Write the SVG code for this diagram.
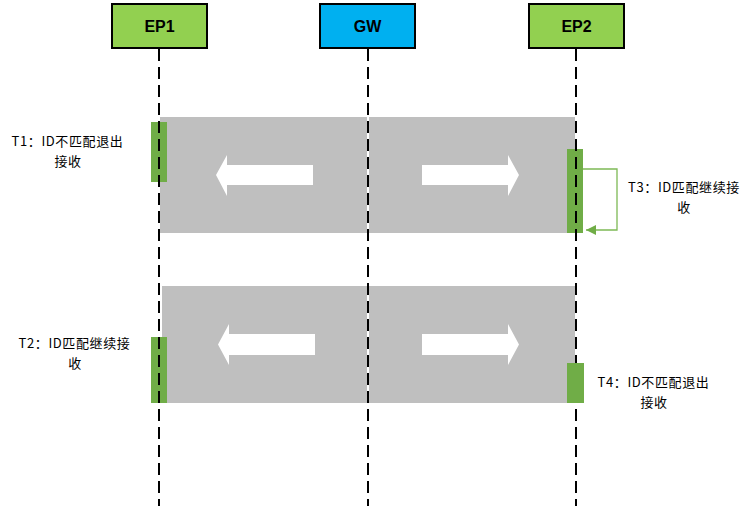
<svg xmlns="http://www.w3.org/2000/svg" width="750" height="513" viewBox="0 0 750 513">
<style>
.band{fill:#BFBFBF}
.wa{fill:#FFFFFF}
.bar{fill:#70AD47}
.life{stroke:#000;stroke-width:2;stroke-dasharray:12 6;fill:none}
.hdr{stroke:#000;stroke-width:2}
.ht{font-family:"Liberation Sans",Arial,sans-serif;font-weight:bold;font-size:16px;fill:#000;text-anchor:middle}
.lbl{font-family:"Noto Sans CJK SC","Noto Sans",sans-serif;font-size:13px;letter-spacing:0.6px;fill:#000;text-anchor:middle}
.fb{stroke:#7DB955;stroke-width:1.3;fill:none}
</style>
<defs>
<marker id="ah" viewBox="0 0 10 10" refX="10" refY="5" markerWidth="12" markerHeight="10" markerUnits="userSpaceOnUse" orient="auto">
<path d="M0,0 L10,5 L0,10 Z" fill="#70AD47"/>
</marker>
</defs>
<g id="band1">
<rect class="band" x="160" y="117" width="207" height="116"/>
<rect class="band" x="369" y="117" width="206" height="116"/>
<polygon class="wa" points="216,175 227,155 227,165 313,165 313,185 227,185 227,196"/>
<polygon class="wa" points="519,175 508,155 508,165 422,165 422,185 508,185 508,196"/>
</g>
<g id="band2">
<rect class="band" x="162" y="286" width="205" height="117"/>
<rect class="band" x="369" y="286" width="206" height="117"/>
<polygon class="wa" points="218,344.5 229,324 229,334 315,334 315,355 229,355 229,365"/>
<polygon class="wa" points="519,344.5 508,324 508,334 422,334 422,355 508,355 508,365"/>
</g>
<g id="bars">
<rect class="bar" x="151" y="122" width="16" height="60"/>
<rect class="bar" x="567" y="149" width="16" height="84"/>
<rect class="bar" x="151" y="337" width="16" height="66"/>
</g>
<g id="EP1">
<rect class="hdr" x="112" y="4" width="95" height="44" fill="#92D050"/>
<text class="ht" x="159.5" y="32">EP1</text>
<line class="life" x1="159" y1="49" x2="159" y2="506"/>
</g>
<g id="GW">
<rect class="hdr" x="320" y="4" width="95" height="44" fill="#00B0F0"/>
<text class="ht" x="367.5" y="32">GW</text>
<line class="life" x1="368" y1="49" x2="368" y2="506"/>
</g>
<g id="EP2">
<rect class="hdr" x="529" y="4" width="95" height="44" fill="#92D050"/>
<text class="ht" x="576.5" y="32">EP2</text>
<line class="life" x1="576" y1="49" x2="576" y2="506"/>
</g>
<g id="bar-EP2-T4">
<rect class="bar" x="567" y="363" width="17" height="40"/>
</g>
<g id="connectors">
<path class="fb" d="M583,169 H617 V230 H586" marker-end="url(#ah)"/>
</g>
<g id="labels">
<text class="lbl" x="67.5" y="146">T1：ID不匹配退出</text>
<text class="lbl" x="68" y="165.5">接收</text>
<text class="lbl" x="684" y="192">T3：ID匹配继续接</text>
<text class="lbl" x="684" y="211.5">收</text>
<text class="lbl" x="74.5" y="348">T2：ID匹配继续接</text>
<text class="lbl" x="75" y="367.5">收</text>
<text class="lbl" x="653.5" y="387">T4：ID不匹配退出</text>
<text class="lbl" x="654" y="406.5">接收</text>
</g>
</svg>
